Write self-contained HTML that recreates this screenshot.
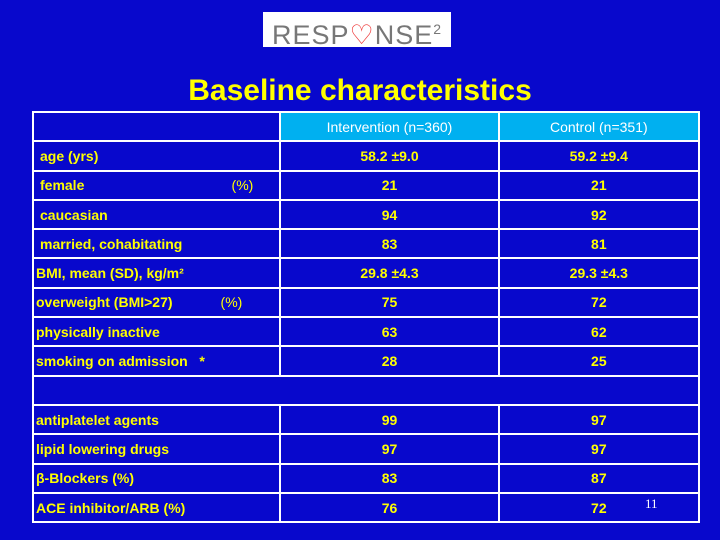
<!DOCTYPE html>
<html><head><meta charset="utf-8"><style>
body{margin:0;width:720px;height:540px;background:#0808cc;position:relative;overflow:hidden;font-family:"Liberation Sans",sans-serif}
#logo{position:absolute;left:263px;top:12px;width:188px;height:35px;background:#fff;color:#777;font-size:27px;line-height:35px;text-align:center;letter-spacing:1px}
#title{position:absolute;left:0;width:720px;top:74px;text-align:center;color:#ff0;font-weight:bold;font-size:30px}
table{position:absolute;left:32px;top:111px;width:668px;border-collapse:collapse}
td{border:2px solid #fff;height:27.3px;padding:0;color:#ff0;font-weight:bold;font-size:14px;text-align:center}
td.l{text-align:left;padding-left:6px}
td.l2{text-align:left;padding-left:2px}
td.h{background:#00b0f0;color:#fff;font-weight:normal}
#pg{position:absolute;left:645px;top:496px;color:#fff;font-family:"Liberation Serif",serif;font-size:13px}
</style></head><body>
<div id="logo">RESP<span style="color:#e33">♡</span>NSE<sup style="font-size:14px">2</sup></div>
<div id="title">Baseline characteristics</div>
<table>
<colgroup><col style="width:248px"><col style="width:219px"><col style="width:201px"></colgroup>
<tr><td></td><td class="h">Intervention (n=360)</td><td class="h">Control (n=351)</td></tr>
<tr><td class="l">age (yrs)</td><td>58.2 ±9.0</td><td>59.2 ±9.4</td></tr>
<tr><td class="l">female<span style="float:right;margin-right:26px;font-weight:normal">(%)</span></td><td>21</td><td>21</td></tr>
<tr><td class="l">caucasian</td><td>94</td><td>92</td></tr>
<tr><td class="l">married, cohabitating</td><td>83</td><td>81</td></tr>
<tr><td class="l2">BMI, mean (SD), kg/m²</td><td>29.8 ±4.3</td><td>29.3 ±4.3</td></tr>
<tr><td class="l2">overweight (BMI&gt;27)<span style="margin-left:48px;font-weight:normal">(%)</span></td><td>75</td><td>72</td></tr>
<tr><td class="l2">physically inactive</td><td>63</td><td>62</td></tr>
<tr><td class="l2">smoking on admission &nbsp;&nbsp;*</td><td>28</td><td>25</td></tr>
<tr><td colspan="3"></td></tr>
<tr><td class="l2">antiplatelet agents</td><td>99</td><td>97</td></tr>
<tr><td class="l2">lipid lowering drugs</td><td>97</td><td>97</td></tr>
<tr><td class="l2">β-Blockers (%)</td><td>83</td><td>87</td></tr>
<tr><td class="l2">ACE inhibitor/ARB (%)</td><td>76</td><td>72</td></tr>
</table>
<div id="pg">11</div>
</body></html>
